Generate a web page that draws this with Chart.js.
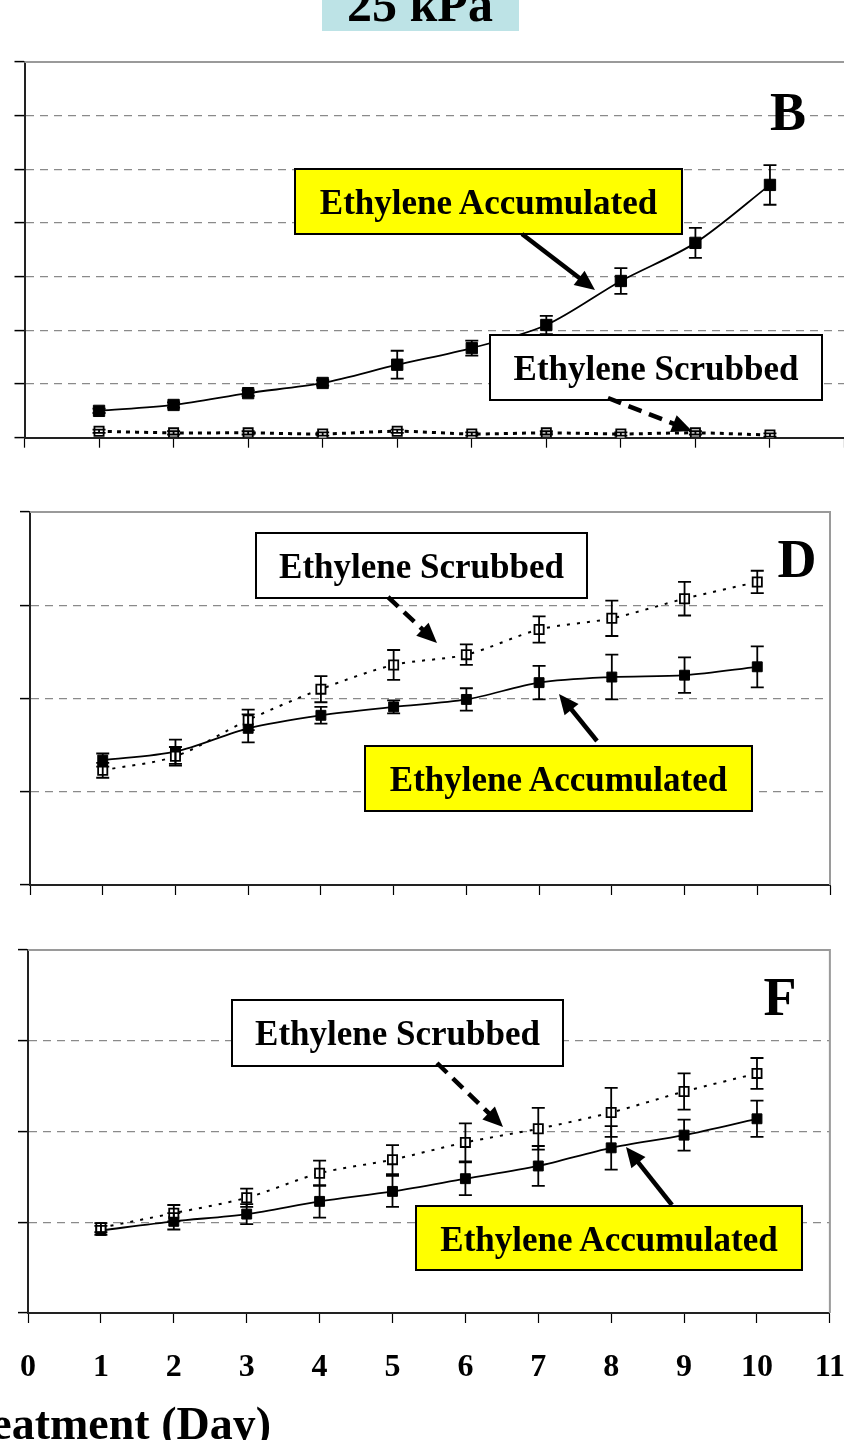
<!DOCTYPE html>
<html>
<head>
<meta charset="utf-8">
<script src="https://cdn.jsdelivr.net/npm/chart.js@4.4.0/dist/chart.umd.min.js"></script>
<style>
  html, body { margin: 0; padding: 0; background: #fff; }
  body { width: 844px; height: 1440px; overflow: hidden; position: relative; }
  canvas { position: absolute; left: 0; }
  #overlay { position: absolute; left: 0; top: 0; }
</style>
</head>
<body>
<canvas id="chartB" width="850" height="470" style="top:0px;width:850px;height:470px"></canvas>
<canvas id="chartD" width="844" height="420" style="top:490px;width:844px;height:420px"></canvas>
<canvas id="chartF" width="845" height="500" style="top:930px;width:845px;height:500px"></canvas>
<svg id="overlay" width="844" height="1440" xmlns="http://www.w3.org/2000/svg"></svg>
<script>
// days of treatment and x tick labels
const days = [1, 2, 3, 4, 5, 6, 7, 8, 9, 10];
const xTickLabels = ['0', '1', '2', '3', '4', '5', '6', '7', '8', '9', '10', '11'];

// panel B
const accB    = [0.50, 0.61, 0.83, 1.02, 1.36, 1.67, 2.10, 2.92, 3.63, 4.71];
const accBErr = [0.04, 0.05, 0.05, 0.05, 0.26, 0.14, 0.17, 0.24, 0.28, 0.37];
const scrB    = [0.12, 0.09, 0.09, 0.07, 0.12, 0.07, 0.09, 0.07, 0.09, 0.05];
const scrBErr = [0.03, 0.03, 0.03, 0.03, 0.03, 0.03, 0.03, 0.03, 0.03, 0.03];

// panel D
const accD    = [1.34, 1.43, 1.68, 1.82, 1.91, 1.99, 2.17, 2.23, 2.25, 2.34];
const accDErr = [0.07, 0.13, 0.15, 0.09, 0.07, 0.12, 0.18, 0.24, 0.19, 0.22];
const scrD    = [1.23, 1.38, 1.77, 2.10, 2.36, 2.47, 2.74, 2.86, 3.07, 3.25];
const scrDErr = [0.08, 0.10, 0.11, 0.14, 0.16, 0.11, 0.14, 0.19, 0.18, 0.12];

// panel F
const accF    = [0.91, 1.01, 1.09, 1.23, 1.34, 1.48, 1.62, 1.82, 1.96, 2.14];
const accFErr = [0.05, 0.09, 0.11, 0.18, 0.17, 0.18, 0.22, 0.24, 0.17, 0.20];
const scrF    = [0.94, 1.10, 1.27, 1.54, 1.69, 1.88, 2.03, 2.21, 2.44, 2.64];
const scrFErr = [0.05, 0.09, 0.10, 0.14, 0.16, 0.21, 0.23, 0.27, 0.20, 0.17];

Chart.defaults.font.family = "'Liberation Serif', 'Times New Roman', serif";
Chart.defaults.color = '#000';

// error bars drawn from each dataset's "errors" array
const errorBars = {
  id: 'errorBars',
  afterDatasetsDraw(chart) {
    const { ctx, scales: { x, y } } = chart;
    ctx.save();
    ctx.strokeStyle = '#000';
    ctx.lineWidth = 1.8;
    chart.data.datasets.forEach(ds => {
      if (!ds.errors) return;
      ds.data.forEach((p, j) => {
        const e = ds.errors[j];
        const px = x.getPixelForValue(p.x);
        const top = y.getPixelForValue(p.y + e);
        const bot = y.getPixelForValue(p.y - e);
        ctx.beginPath();
        ctx.moveTo(px, top); ctx.lineTo(px, bot);
        ctx.moveTo(px - 6.5, top); ctx.lineTo(px + 6.5, top);
        ctx.moveTo(px - 6.5, bot); ctx.lineTo(px + 6.5, bot);
        ctx.stroke();
      });
    });
    ctx.restore();
  }
};

// grey top (and right) frame of the plot area
const frame = {
  id: 'frame',
  beforeDatasetsDraw(chart, args, opts) {
    const { ctx, chartArea: a } = chart;
    ctx.save();
    ctx.strokeStyle = '#9a9a9a';
    ctx.lineWidth = 2;
    ctx.beginPath();
    ctx.moveTo(a.left, a.top);
    ctx.lineTo(a.right, a.top);
    if (opts.right !== false) ctx.lineTo(a.right, a.bottom);
    ctx.stroke();
    ctx.restore();
  }
};

function makePanel(id, o) {
  return new Chart(document.getElementById(id), {
    type: 'line',
    data: {
      datasets: [
        {
          label: 'Ethylene Scrubbed',
          data: days.map((d, i) => ({ x: d, y: o.scr[i] })),
          errors: o.scrErr,
          borderColor: '#000',
          borderWidth: o.dotWidth,
          borderDash: o.dotDash,
          tension: 0.3,
          pointStyle: 'rect',
          pointRadius: 6.5,
          pointBackgroundColor: '#fff',
          pointBorderColor: '#000',
          pointBorderWidth: 1.8
        },
        {
          label: 'Ethylene Accumulated',
          data: days.map((d, i) => ({ x: d, y: o.acc[i] })),
          errors: o.accErr,
          borderColor: '#000',
          borderWidth: 1.8,
          tension: 0.3,
          pointStyle: 'rect',
          pointRadius: o.accRadius,
          pointBackgroundColor: '#000',
          pointBorderColor: '#000',
          pointBorderWidth: 1
        }
      ]
    },
    options: {
      responsive: false,
      animation: false,
      devicePixelRatio: 1,
      layout: { autoPadding: false, padding: o.padding },
      plugins: {
        legend: { display: false },
        tooltip: { enabled: false },
        frame: { right: o.rightFrame }
      },
      scales: {
        x: {
          type: 'linear',
          min: 0,
          max: 11,
          ticks: {
            stepSize: 1,
            display: o.showLabels,
            autoSkip: false,
            maxRotation: 0,
            padding: 0,
            color: '#000',
            font: { size: 32, weight: 'bold', lineHeight: 90 / 32 },
            callback: v => xTickLabels[v]
          },
          grid: { drawOnChartArea: false, tickLength: 10, tickColor: '#000', tickWidth: 1.2 },
          border: { color: '#222', width: 2 }
        },
        y: {
          min: 0,
          max: o.yMax,
          ticks: { stepSize: 1, display: false },
          grid: {
            color: c => (c.tick && (c.tick.value === 0 || c.tick.value === o.yMax)) ? 'rgba(0,0,0,0)' : '#8a8a8a',
            lineWidth: 1.2,
            tickLength: 10,
            tickColor: '#000',
            tickWidth: 1.5
          },
          border: { color: '#222', width: 2, dash: [8, 6] }
        }
      }
    },
    plugins: [frame, errorBars]
  });
}

makePanel('chartB', {
  acc: accB, accErr: accBErr, scr: scrB, scrErr: scrBErr,
  yMax: 7, showLabels: false, dotWidth: 3, dotDash: [4, 5], accRadius: 8, rightFrame: false,
  padding: { left: 14.5, top: 62, right: 5.5, bottom: 22.3 }
});
makePanel('chartD', {
  acc: accD, accErr: accDErr, scr: scrD, scrErr: scrDErr,
  yMax: 4, showLabels: false, dotWidth: 2, dotDash: [3, 7], accRadius: 7, rightFrame: true,
  padding: { left: 20, top: 22, right: 14, bottom: 15 }
});
makePanel('chartF', {
  acc: accF, accErr: accFErr, scr: scrF, scrErr: scrFErr,
  yMax: 4, showLabels: true, dotWidth: 2, dotDash: [3, 7], accRadius: 7, rightFrame: true,
  padding: { left: 18, top: 20, right: 0, bottom: 17 }
});

// annotations: boxes, arrows, panel letters, title
const svg = document.getElementById('overlay');
const NS = 'http://www.w3.org/2000/svg';
function el(tag, attrs, text) {
  const e = document.createElementNS(NS, tag);
  for (const k in attrs) e.setAttribute(k, attrs[k]);
  if (text) e.textContent = text;
  svg.appendChild(e);
  return e;
}
const serif = "'Liberation Serif', 'Times New Roman', serif";

el('rect', { x: 322, y: 0, width: 197, height: 31, fill: '#bde3e6' });
el('text', { x: 420, y: 21, 'text-anchor': 'middle', 'font-family': serif, 'font-weight': 'bold', 'font-size': 50 }, '25 kPa');

const boxes = [
  { x: 295, y: 169, w: 387, h: 65, fill: '#ffff00', text: 'Ethylene Accumulated' },
  { x: 490, y: 335, w: 332, h: 65, fill: '#ffffff', text: 'Ethylene Scrubbed' },
  { x: 256, y: 533, w: 331, h: 65, fill: '#ffffff', text: 'Ethylene Scrubbed' },
  { x: 365, y: 746, w: 387, h: 65, fill: '#ffff00', text: 'Ethylene Accumulated' },
  { x: 232, y: 1000, w: 331, h: 66, fill: '#ffffff', text: 'Ethylene Scrubbed' },
  { x: 416, y: 1206, w: 386, h: 64, fill: '#ffff00', text: 'Ethylene Accumulated' }
];
boxes.forEach(b => {
  el('rect', { x: b.x, y: b.y, width: b.w, height: b.h, fill: b.fill, stroke: '#000', 'stroke-width': 2 });
  el('text', { x: b.x + b.w / 2, y: b.y + 45, 'text-anchor': 'middle', 'font-family': serif, 'font-weight': 'bold', 'font-size': 35 }, b.text);
});

const arrows = [
  { from: [522, 234], to: [595, 290], dashed: false },
  { from: [608, 398], to: [692, 431], dashed: true },
  { from: [388, 597], to: [437, 643], dashed: true },
  { from: [597, 741], to: [559, 694], dashed: false },
  { from: [437, 1063], to: [503, 1127], dashed: true },
  { from: [672, 1205], to: [626, 1147], dashed: false }
];
arrows.forEach(a => {
  const [x1, y1] = a.from, [x2, y2] = a.to;
  const len = Math.hypot(x2 - x1, y2 - y1);
  const ux = (x2 - x1) / len, uy = (y2 - y1) / len;
  const hl = 20, hw = 9;
  const bx = x2 - ux * hl, by = y2 - uy * hl;
  el('line', {
    x1: x1, y1: y1, x2: bx + ux * 2, y2: by + uy * 2, stroke: '#000', 'stroke-width': 4.5,
    'stroke-dasharray': a.dashed ? '14 8' : 'none'
  });
  el('polygon', {
    points: `${x2},${y2} ${bx - uy * hw},${by + ux * hw} ${bx + uy * hw},${by - ux * hw}`,
    fill: '#000'
  });
});

const letters = [
  { x: 788, y: 130, t: 'B' },
  { x: 797, y: 577, t: 'D' },
  { x: 780, y: 1015, t: 'F' }
];
letters.forEach(l => {
  el('text', { x: l.x, y: l.y, 'text-anchor': 'middle', 'font-family': serif, 'font-weight': 'bold', 'font-size': 54 }, l.t);
});

el('text', { x: 271, y: 1439, 'text-anchor': 'end', 'font-family': serif, 'font-weight': 'bold', 'font-size': 46 }, 'Treatment (Day)');
</script>
</body>
</html>
